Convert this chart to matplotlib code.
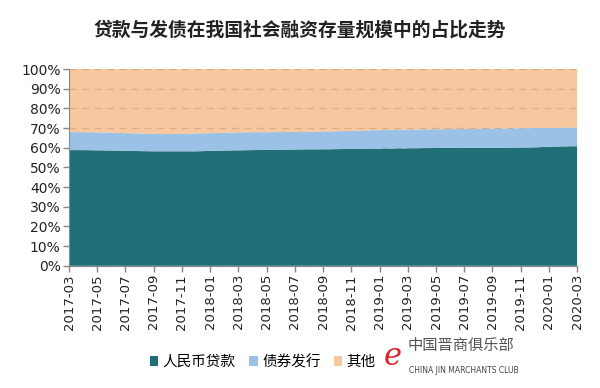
import matplotlib
matplotlib.use("Agg")
import matplotlib.pyplot as plt
import numpy as np

plt.rcParams['font.family'] = ['DejaVu Sans', 'Noto Sans CJK SC']

months = ['2017-03', '2017-04', '2017-05', '2017-06', '2017-07', '2017-08', '2017-09',
          '2017-10', '2017-11', '2017-12', '2018-01', '2018-02', '2018-03', '2018-04',
          '2018-05', '2018-06', '2018-07', '2018-08', '2018-09', '2018-10', '2018-11',
          '2018-12', '2019-01', '2019-02', '2019-03', '2019-04', '2019-05', '2019-06',
          '2019-07', '2019-08', '2019-09', '2019-10', '2019-11', '2019-12', '2020-01',
          '2020-02', '2020-03']
# 人民币贷款占比 (%)
loans = [58.8, 58.8, 58.7, 58.6, 58.5, 58.3, 58.2, 58.2, 58.2, 58.2, 58.4, 58.6, 58.7,
         58.8, 58.9, 59.0, 59.1, 59.2, 59.2, 59.3, 59.4, 59.4, 59.5, 59.6, 59.7, 59.8,
         59.9, 60.0, 60.0, 60.0, 60.0, 60.0, 60.1, 60.2, 60.5, 60.7, 60.8]
# 债券发行占比 (%)
bonds = [9.1, 9.1, 9.1, 9.1, 8.9, 8.9, 8.8, 8.8, 8.8, 9.0, 9.0, 9.0, 9.1,
         9.1, 9.0, 9.0, 8.9, 8.9, 9.0, 9.1, 9.2, 9.4, 9.5, 9.5, 9.5, 9.5,
         9.5, 9.5, 9.5, 9.6, 9.7, 9.8, 9.8, 9.8, 9.6, 9.5, 9.5]
others = [100 - a - b for a, b in zip(loans, bonds)]

names = ['人民币贷款', '债券发行', '其他']
colors = ['#206E76', '#9BC2E6', '#F5B57F']

x = np.arange(len(months))

fig = plt.figure(figsize=(6, 3.88), dpi=100)
ax = fig.add_axes([0.115, 0.315, 0.847, 0.507])

polys = ax.stackplot(x, loans, bonds, others, colors=colors, labels=names)
polys[2].set_alpha(0.75)
for p in polys:
    p.set_linewidth(0)

ax.set_axisbelow(True)
ax.yaxis.grid(True, linestyle=(0, (5, 4)), color='#9a9a9a', linewidth=1)
ax.set_xlim(0, len(months) - 1)
ax.set_ylim(0, 100)
ax.set_yticks(range(0, 101, 10))
ax.set_yticklabels([f'{v}%' for v in range(0, 101, 10)], fontsize=10, color='#222222')
ax.set_xticks(x[::2])
ax.set_xticklabels(months[::2], rotation=90, fontsize=9.5, color='#222222')
ax.tick_params(axis='both', color='#888888', length=4, width=1, pad=2)

for s in ['top', 'right']:
    ax.spines[s].set_visible(False)
for s in ['left', 'bottom']:
    ax.spines[s].set_color('#888888')

fig.text(0.5, 0.923, '贷款与发债在我国社会融资存量规模中的占比走势',
         family=['Noto Sans CJK SC'], fontsize=13.5, fontweight='bold',
         color='#222222', ha='center', va='center')

fig.legend(loc='center', bbox_to_anchor=(0.438, 0.067), ncol=3, frameon=False,
           prop={'family': 'Noto Sans CJK SC', 'size': 10.5},
           handlelength=0.6, handleheight=0.6, handletextpad=0.3, columnspacing=0.9)

# watermark
fig.text(0.655, 0.08, 'e', fontsize=22, color='#d8262b', style='italic',
         ha='center', va='center', family='DejaVu Serif')
fig.text(0.68, 0.11, '中国晋商俱乐部', family=['Noto Sans CJK SC'], fontsize=11,
         color='#555555', ha='left', va='center')
fig.text(0.682, 0.045, 'CHINA JIN MARCHANTS CLUB', fontsize=5.5,
         color='#444444', ha='left', va='center')

fig.savefig('out.png', dpi=100)
